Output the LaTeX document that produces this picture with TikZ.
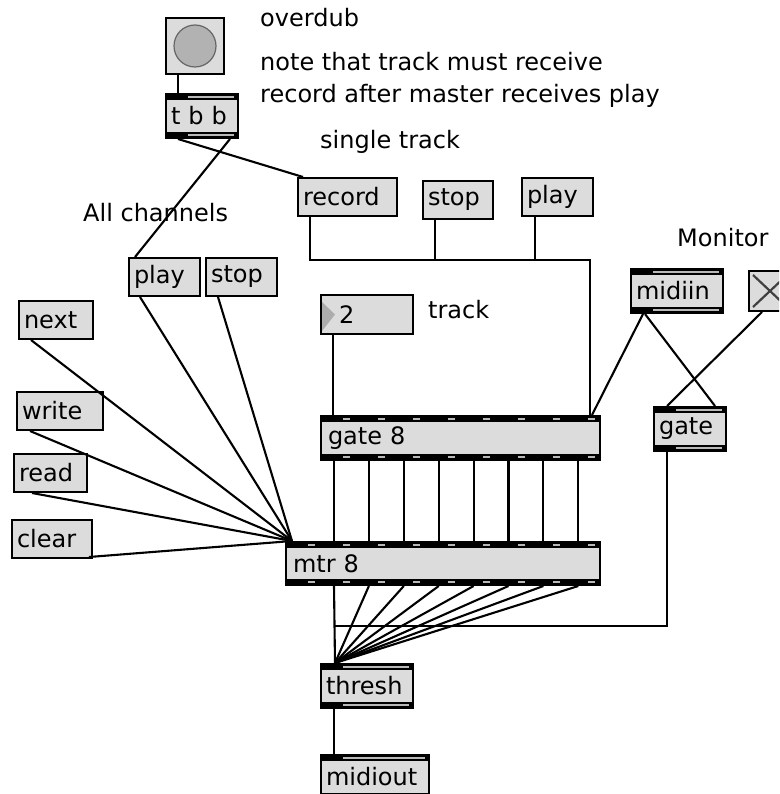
\documentclass[tikz,border=0pt]{standalone}
\usepackage{fontspec}
\setmainfont{DejaVu Sans}
\usetikzlibrary{calc}
\definecolor{boxgray}{RGB}{220,220,220}
\definecolor{btngray}{RGB}{178,178,178}

\begin{document}
\begin{tikzpicture}[
    x=1pt, y=-1pt,
    every node/.append style={font=\fontsize{24}{28}\selectfont},
    cord/.style={line width=2.1pt},
    comment/.style={anchor=west, inner sep=0pt},
    banddash/.style={},
    msg/.style={draw, line width=2pt, fill=boxgray, anchor=north west, inner xsep=5pt, inner ysep=0pt, align=left, minimum height=38pt},
    obj/.style={msg, minimum height=44pt, path picture={
        \fill[black] (path picture bounding box.north west) rectangle ([yshift=-6pt]path picture bounding box.north east);
        \fill[black] ([yshift=6pt]path picture bounding box.south west) rectangle (path picture bounding box.south east);
        \draw[gray!55, line width=1.3pt, banddash] ([xshift=22pt,yshift=-3pt]path picture bounding box.north west) -- ([xshift=-4pt,yshift=-3pt]path picture bounding box.north east);
        \draw[gray!55, line width=1.3pt, banddash] ([xshift=22pt,yshift=3pt]path picture bounding box.south west) -- ([xshift=-4pt,yshift=3pt]path picture bounding box.south east);
    }},
]
\useasboundingbox (0,0) rectangle (779,794);
\clip (0,0) rectangle (779,794);

% comments
\node[comment] (overdub) at (260,18) {overdub};
\node[comment] (noteone) at (260,62) {note that track must receive};
\node[comment] (notetwo) at (260,96) {record after master receives play};
\node[comment] (single) at (320,142) {single track};
\node[comment] (allch) at (83,213) {All channels};
\node[comment] (tracklbl) at (428,310) {track};
\node[comment] (monitor) at (677,238) {Monitor};

% boxes
\node[draw, line width=2pt, fill=boxgray, anchor=north west, minimum width=58pt, minimum height=56pt, inner sep=0pt] (bang) at (165,17) {};
\node[circle, draw=black!60, line width=1.2pt, fill=btngray, minimum size=42pt, inner sep=0pt] (dot) at (bang.center) {};
\node[obj, text width=62pt] (tbb) at (165,93) {t b b};
\node[msg, text width=89pt] (record) at (297,177) {record};
\node[msg, text width=60pt] (stopone) at (422,180) {stop};
\node[msg, text width=61pt] (playone) at (521,177) {play};
\node[msg, text width=61pt] (playall) at (128,257) {play};
\node[msg, text width=61pt] (stopall) at (205,257) {stop};
\node[msg, text width=64pt] (next) at (18,300) {next};
\node[msg, text width=76pt] (write) at (16,391) {write};
\node[msg, text width=63pt] (read) at (13,453) {read};
\node[msg, text width=70pt] (clear) at (11,519) {clear};
\node[msg, text width=82pt, minimum height=39pt] (num) at (320,294) {\hspace{13pt}2};
\fill[gray!65] ($(num.north west)+(2,8)$) -- ($(num.west)+(15,0)$) -- ($(num.south west)+(2,-4)$) -- cycle;
\node[obj, text width=265pt, inner xsep=7pt, banddash/.style={dash pattern=on 7pt off 28pt}] (gate8) at (320,415) {gate 8};
\node[obj, text width=300pt, inner xsep=7pt, minimum height=43pt, banddash/.style={dash pattern=on 7pt off 28pt}] (mtr8) at (285,541) {mtr 8};
\node[obj, text width=82pt] (midiin) at (630,268) {midiin};
\node[draw, line width=2pt, fill=boxgray, anchor=north west, minimum width=42pt, minimum height=40pt, inner sep=0pt] (toggle) at (748,270) {};
\draw[line width=2.2pt, black!75] ($(toggle.north west)+(5,5)$) -- ($(toggle.south east)+(-5,-5)$)
    ($(toggle.south west)+(5,-5)$) -- ($(toggle.north east)+(-5,5)$);
\node[obj, text width=62pt] (gate) at (653,406) {gate};
\node[obj, text width=82pt] (thresh) at (320,663) {thresh};
\node[obj, text width=98pt] (midiout) at (320,754) {midiout};

% patch cords
\draw[cord] ($(bang.south west)+(13,0)$) -- ($(tbb.north west)+(13,0)$);
\draw[cord] ($(tbb.south west)+(13,0)$) -- ($(record.north west)+(6,0)$);
\draw[cord] ($(tbb.south east)+(-9,0)$) -- ($(playall.north west)+(7,0)$);
\coordinate (bus) at ($(gate8.north east)+(-11,-155)$);
\draw[cord] ($(record.south west)+(13,0)$) |- (bus) -- ($(gate8.north east)+(-11,0)$);
\draw[cord] ($(stopone.south west)+(13,0)$) |- (bus);
\draw[cord] ($(playone.south west)+(14,0)$) |- (bus);
\draw[cord] ($(num.south west)+(13,0)$) -- ($(gate8.north west)+(13,0)$);
\foreach \i in {0,...,7} {
    \coordinate (go\i) at ($(gate8.south west)+({14+34.9*\i},0)$);
    \draw[cord] (go\i) -- (go\i |- mtr8.north);
}
\coordinate (mtrin) at ($(mtr8.north west)+(7,0)$);
\foreach \src/\dx in {playall/12, stopall/13, next/13, write/14, read/19}
    \draw[cord] ($(\src.south west)+(\dx,0)$) -- (mtrin);
\draw[cord] ($(clear.south east)+(-4,-2)$) -- (mtrin);
\coordinate (thrin) at ($(thresh.north west)+(15,0)$);
\foreach \i in {0,...,7}
    \draw[cord] ($(mtr8.south west)+({49+34.9*\i},0)$) -- (thrin);
\coordinate (join) at ($(thrin)+(0,-37)$);
\draw[cord] ($(gate.south west)+(14,0)$) |- (join);
\draw[cord] ($(thresh.south west)+(14,0)$) -- ($(midiout.north west)+(14,0)$);
\draw[cord] ($(midiin.south west)+(13,0)$) -- ($(gate8.north east)+(-9,0)$);
\draw[cord] ($(midiin.south west)+(15,0)$) -- ($(gate.north east)+(-12,0)$);
\draw[cord] ($(toggle.south west)+(14,0)$) -- ($(gate.north west)+(14,0)$);

\end{tikzpicture}
\end{document}
